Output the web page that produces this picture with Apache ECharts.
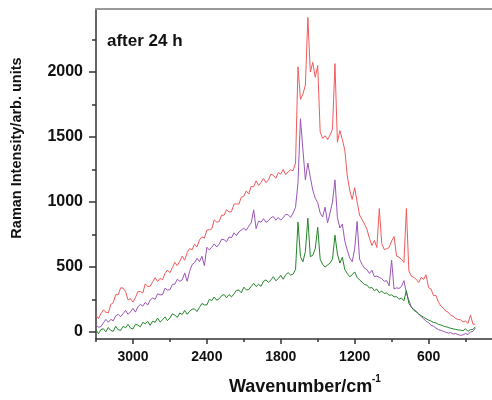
<!DOCTYPE html>
<html><head><meta charset="utf-8">
<script src="https://cdn.jsdelivr.net/npm/echarts@6/dist/echarts.min.js"></script>
<style>html,body{margin:0;padding:0;background:#fff}#c{width:492px;height:400px}</style>
</head><body><div id="c"></div>
<script>
// Wavenumber grid (cm^-1)
const wavenumbers = [
3300,3280,3260,3240,3220,3200,3180,3160,3140,3120,
3100,3080,3060,3040,3020,3000,2980,2960,2940,2920,
2900,2880,2860,2840,2820,2800,2780,2760,2740,2720,
2700,2680,2660,2640,2620,2600,2580,2560,2540,2520,
2500,2480,2460,2440,2420,2400,2380,2360,2340,2320,
2300,2280,2260,2240,2220,2200,2180,2160,2140,2120,
2100,2080,2060,2040,2020,2000,1980,1960,1940,1920,
1900,1880,1860,1840,1820,1800,1780,1760,1740,1720,
1700,1680,1660,1640,1620,1600,1580,1560,1540,1520,
1500,1480,1460,1440,1420,1400,1380,1360,1340,1320,
1300,1280,1260,1240,1220,1200,1180,1160,1140,1120,
1100,1080,1060,1040,1020,1000,980,960,940,920,
900,880,860,840,820,800,780,760,740,720,
700,680,660,640,620,600,580,560,540,520,
500,480,460,440,420,400,380,360,340,320,
300,280,260,240,220];

const redIntensity = [
128,103,140,170,152,147,211,225,288,286,
340,338,312,247,256,230,264,310,312,300,
370,350,352,386,418,388,413,401,450,475,
456,494,536,510,544,583,552,610,642,632,
676,654,708,732,722,784,786,794,863,845,
850,899,898,941,923,926,983,986,984,1037,
1044,1085,1061,1120,1117,1163,1127,1151,1181,1149,
1170,1214,1206,1183,1226,1214,1251,1210,1232,1247,
1240,1300,2040,1790,1830,1900,2420,2000,2075,1960,
2050,1540,1490,1510,1480,1515,1560,2065,1460,1550,
1480,1400,1200,1090,1020,1110,1000,900,865,830,
790,720,665,705,650,950,680,635,640,650,
700,735,585,575,560,535,950,470,430,420,
405,380,420,405,440,340,330,280,280,230,
200,182,160,152,128,122,104,96,94,78,
85,65,130,62,58];

const purpleIntensity = [
55,37,41,70,97,75,97,86,124,136,
117,141,166,136,155,182,153,193,213,199,
228,207,246,262,251,294,285,287,337,322,
326,366,368,406,390,401,454,390,467,518,
533,566,541,583,510,652,631,652,678,654,
677,714,710,694,731,725,763,741,770,785,
798,782,814,839,940,795,853,845,871,844,
856,879,888,860,881,860,880,904,902,882,
915,960,1150,1640,1400,1170,1300,1190,1090,1030,
995,915,885,960,840,915,1000,1170,880,800,
830,700,630,570,540,640,850,560,520,490,
480,450,475,425,430,420,410,390,395,355,
553,330,340,335,350,395,300,245,192,175,
158,140,118,102,82,72,52,44,30,18,
12,5,-2,-8,-4,-16,-12,-20,-26,-22,
-12,-20,0,5,30];

const greenIntensity = [
16,-13,18,25,1,34,12,5,44,17,
12,43,33,59,30,23,59,53,39,74,
63,81,51,83,74,107,76,94,116,87,
107,139,130,112,146,135,166,136,160,175,
178,157,189,219,209,208,251,242,269,244,
256,279,288,263,288,270,293,321,322,302,
345,324,326,350,374,350,367,351,390,401,
381,401,425,394,411,436,406,441,456,438,
445,480,845,580,540,620,875,580,590,640,
805,560,520,500,515,530,560,745,600,530,
575,480,450,425,440,462,420,400,385,365,
360,338,342,318,330,302,315,296,300,282,
286,270,272,252,262,240,318,220,192,168,
155,138,126,114,102,92,84,74,70,58,
54,46,40,36,28,24,20,16,14,10,
25,5,18,20,40];

const xMajorTicks = [3000,2400,1800,1200,600];
const xMinorTicks = [3300,2700,2100,1500,900,300];
const yMajorTicks = [0,500,1000,1500,2000];
const yMinorTicks = [250,750,1250,1750,2250];

const FONT = '"Liberation Sans", Arial, sans-serif';
const X_MIN = 85, X_MAX = 3300, Y_MIN = -54, Y_MAX = 2485;
const pair = arr => wavenumbers.map((w, i) => [w, arr[i]]);
const plain = v => String(v);

const chart = echarts.init(document.getElementById('c'), null, {renderer: 'canvas'});
const axisColor = '#333';
const baseX = {
  type: 'value', inverse: true, min: X_MIN, max: X_MAX, position: 'bottom',
  splitLine: {show: false}
};
const baseY = {
  type: 'value', min: Y_MIN, max: Y_MAX, position: 'left',
  splitLine: {show: false}
};
chart.setOption({
  animation: false,
  backgroundColor: '#fff',
  grid: {left: 96, top: 9, right: 0, bottom: 61},
  xAxis: [
    Object.assign({}, baseX, {
      axisLine: {onZero: false, lineStyle: {color: axisColor, width: 1.5}},
      axisTick: {show: true, inside: false, length: 5, customValues: xMajorTicks, lineStyle: {color: axisColor, width: 1.5}},
      axisLabel: {customValues: xMajorTicks, formatter: plain, margin: 11, fontFamily: FONT, fontWeight: 'bold', fontSize: 14, color: '#111'}
    }),
    Object.assign({}, baseX, {
      axisLine: {show: false, onZero: false},
      axisTick: {show: true, inside: false, length: 3, customValues: xMinorTicks, lineStyle: {color: axisColor, width: 1.5}},
      axisLabel: {show: false}
    }),
    Object.assign({}, baseX, {
      position: 'top',
      axisLine: {onZero: false, lineStyle: {color: '#999', width: 2}},
      axisTick: {show: false}, axisLabel: {show: false}
    })
  ],
  yAxis: [
    Object.assign({}, baseY, {
      axisLine: {show: true, onZero: false, lineStyle: {color: axisColor, width: 1.5}},
      axisTick: {show: true, inside: false, length: 7, customValues: yMajorTicks, lineStyle: {color: axisColor, width: 1.5}},
      axisLabel: {customValues: yMajorTicks, formatter: plain, margin: 13, fontFamily: FONT, fontWeight: 'bold', fontSize: 16, color: '#111'}
    }),
    Object.assign({}, baseY, {
      axisLine: {show: false, onZero: false},
      axisTick: {show: true, inside: false, length: 4, customValues: yMinorTicks, lineStyle: {color: axisColor, width: 1.5}},
      axisLabel: {show: false}
    })
  ],
  series: [
    {name: 'red', type: 'line', data: pair(redIntensity), showSymbol: false, xAxisIndex: 0, yAxisIndex: 0,
     lineStyle: {color: '#f25a5c', width: 1}, z: 2},
    {name: 'purple', type: 'line', data: pair(purpleIntensity), showSymbol: false, xAxisIndex: 0, yAxisIndex: 0,
     lineStyle: {color: '#9a56b8', width: 1}, z: 3},
    {name: 'green', type: 'line', data: pair(greenIntensity), showSymbol: false, xAxisIndex: 0, yAxisIndex: 0,
     lineStyle: {color: '#22862a', width: 1}, z: 4}
  ],
  graphic: [
    {type: 'text', left: 107, top: 33, style: {text: 'after 24 h', font: 'bold 17px ' + FONT, fill: '#111'}},
    {type: 'text', x: 17, y: 148, rotation: Math.PI / 2,
     style: {text: 'Raman Intensity/arb. units', font: 'bold 14.5px ' + FONT, fill: '#111', textAlign: 'center', textVerticalAlign: 'middle'}},
    {type: 'text', x: 229, y: 378, style: {text: 'Wavenumber/cm', font: 'bold 18px ' + FONT, fill: '#111', textVerticalAlign: 'top'}},
    {type: 'text', x: 372, y: 374, style: {text: '-1', font: 'bold 10px ' + FONT, fill: '#111', textVerticalAlign: 'top'}}
  ]
});
</script></body></html>
